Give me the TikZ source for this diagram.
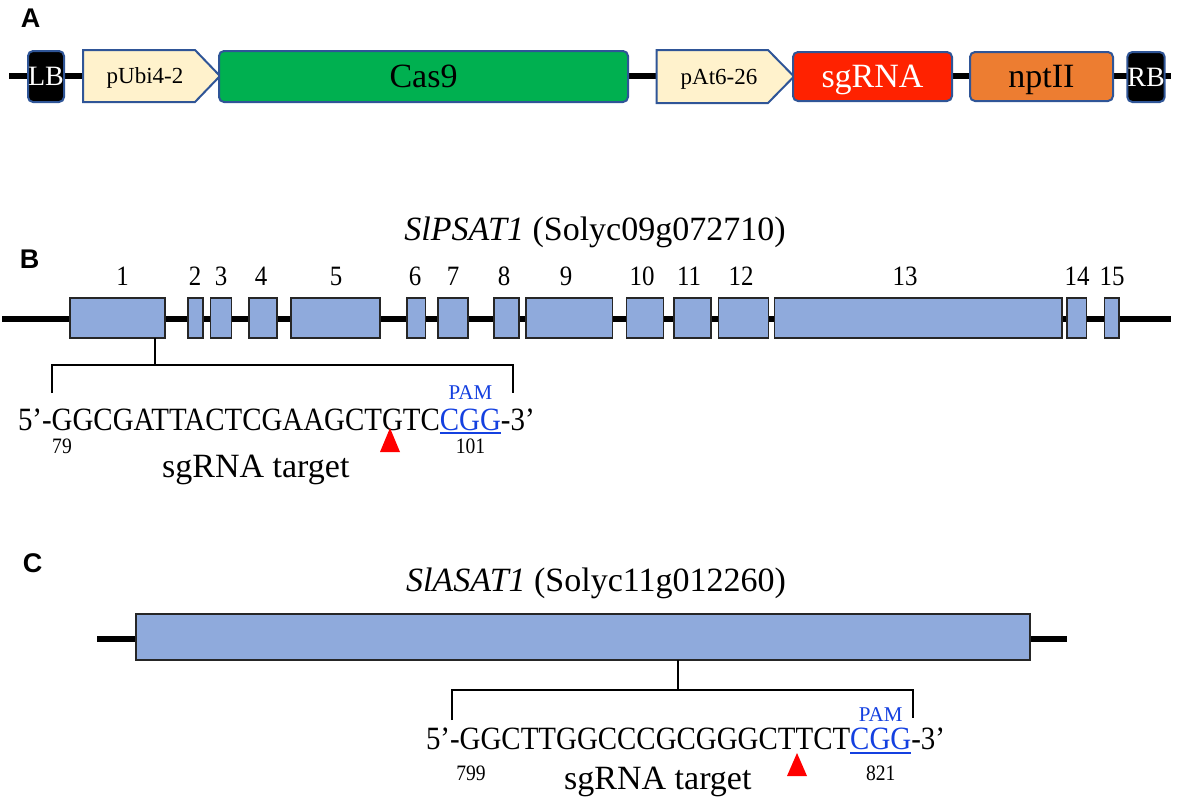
\documentclass[tikz,border=0pt]{standalone}
\usepackage{fontspec}
\setmainfont{Liberation Serif}
\newfontfamily\panelfont{Liberation Sans}
\newfontfamily\tallfont{Liberation Serif}[FakeStretch=0.89]
\usetikzlibrary{calc}
\definecolor{boxblue}{HTML}{2F5597}
\definecolor{promo}{HTML}{FFF2CC}
\definecolor{casgreen}{HTML}{00B050}
\definecolor{sgred}{HTML}{FF2200}
\definecolor{nptorange}{HTML}{ED7D31}
\definecolor{exonfill}{HTML}{8FAADC}
\definecolor{pamblue}{HTML}{1440E0}
\newcommand{\fsz}[1]{\fontsize{#1}{#1}\selectfont}
\tikzset{
  backbone/.style={line width=6pt},
  part/.style={draw=boxblue, line width=2pt, rounded corners=5pt, inner sep=0pt, outer sep=0pt,
    font=\fsz{34}, text height=22pt, text depth=0pt},
  endbox/.style={part, fill=black, text=white, font=\fsz{28}, text height=18pt},
  promobox/.style={draw=boxblue, line width=2pt, fill=promo, line join=miter},
  prtext/.style={font=\fsz{23}, inner sep=0pt, text height=15pt, text depth=0pt},
  exon/.style={draw=black!85, line width=1.6pt, fill=exonfill, inner sep=0pt, outer sep=0pt, minimum height=40pt},
  num/.style={font=\tallfont\fsz{28}, anchor=base, inner sep=0pt},
  title/.style={font=\fsz{34}, anchor=base, inner sep=0pt},
  panel/.style={font=\panelfont\bfseries\fsz{27}, anchor=base, inner sep=0pt},
  seq/.style={font=\tallfont\fsz{32.5}, anchor=base west, inner sep=0pt, outer sep=0pt},
  posnum/.style={font=\tallfont\fsz{22}, anchor=base, inner sep=0pt},
  pam/.style={font=\fsz{21}, text=pamblue, anchor=base, inner sep=0pt},
  target/.style={font=\fsz{34}, anchor=base west, inner sep=0pt},
  ul/.style={draw=pamblue, line width=2.6pt},
  bracket/.style={line width=2.4pt, line join=miter},
  stem/.style={line width=2pt},
  cut/.style={fill=red},
}
\begin{document}
\begin{tikzpicture}[x=1pt,y=-1pt]
\useasboundingbox (0,0) rectangle (1181,801);

% ---------------- Panel A ----------------
\node[panel] (labA) at (30.5,27) {A};
\coordinate (aL) at (9,76);
\coordinate (aR) at (1171,76);
\draw[backbone] (aL) -- (aR);

\node[endbox, minimum width=36pt, minimum height=51pt] (LB) at (46,76.5) {LB};
\draw[promobox] (83,50) -- (195,50) -- (220,76) -- (195,102) -- (83,102) -- cycle;
\node[prtext] (pubi) at (145,76) {pUbi4-2};
\node[part, fill=casgreen, minimum width=409pt, minimum height=51pt] (cas) at (423.5,76.5) {Cas9};
\draw[promobox] (656.5,50) -- (768,50) -- (794,76.5) -- (768,103) -- (656.5,103) -- cycle;
\node[prtext] (pat) at (719,76.5) {pAt6-26};
\node[part, fill=sgred, text=white, minimum width=159pt, minimum height=49pt] (sg) at (872.5,76.5) {sgRNA};
\node[part, fill=nptorange, minimum width=143pt, minimum height=49pt] (npt) at (1041.5,76.5) {nptII};
\node[endbox, minimum width=36pt, minimum height=50pt] (RB) at (1146,77) {RB};

% ---------------- Panel B ----------------
\node[panel] (labB) at (29.5,268) {B};
\node[title] (titB) at (595,240) {\textit{SlPSAT1} (Solyc09g072710)};
\coordinate (bL) at (2,319);
\coordinate (bR) at (1171,319);
\draw[backbone] (bL) -- (bR);
\foreach \n/\a/\b in {1/70/165, 2/188/203, 3/210.5/231.5, 4/249/277, 5/291/380,
  6/407/425.5, 7/438/468, 8/494/519, 9/526/612.5, 10/626.5/663.5, 11/674/711,
  12/718.5/768.5, 13/774.5/1062, 14/1067/1086.5, 15/1104.5/1119}
  \node[exon, minimum width={\b-\a}] (e\n) at ({(\a+\b)/2},318) {};
\foreach \n/\x in {1/122.5, 2/195, 3/221, 4/261, 5/336, 6/415, 7/453, 8/504, 9/566,
  10/642, 11/689, 12/741, 13/905, 14/1077, 15/1112}
  \node[num] (n\n) at (\x,285) {\n};

\coordinate (bStem) at (155,365);
\coordinate (bBl) at (52,393);
\coordinate (bBr) at (513,393);
\draw[stem] (e1.south -| bStem) -- (bStem);
\draw[bracket] (bBl) -- (bBl |- bStem) -- (bBr |- bStem) -- (bBr);

\node[seq] (sB) at (18,430) {5’-GGCGATTACTCGAAGCTGTC};
\node[seq, text=pamblue] (pB) at (sB.base east) {CGG};
\node[seq] (tB) at (pB.base east) {-3’};
\draw[ul] ([yshift=-3pt]pB.base west) -- ([yshift=-3pt]pB.base east);
\node[pam] (pamB) at ([yshift=31pt]pB.base) {PAM};
\fill[cut] (390,428) -- (400,452) -- (380,452) -- cycle;
\node[posnum] (p79) at (62,453) {79};
\node[posnum] (p101) at (pB.base |- p79.base) {101};
\node[target] (tgB) at (162,477) {sgRNA target};

% ---------------- Panel C ----------------
\node[panel] (labC) at (32.5,572) {C};
\node[title] (titC) at (596,591) {\textit{SlASAT1} (Solyc11g012260)};
\coordinate (cL) at (97,639);
\coordinate (cR) at (1067,639);
\draw[backbone] (cL) -- (cR);
\node[exon, minimum width=894pt, minimum height=46pt] (gC) at (583,637) {};

\coordinate (cStem) at (677.5,690);
\coordinate (cBl) at (452,720);
\coordinate (cBr) at (913,718);
\draw[stem] (gC.south -| cStem) -- (cStem);
\draw[bracket] (cBl) -- (cBl |- cStem) -- (cBr |- cStem) -- (cBr);

\node[seq] (sC) at (426,749) {5’-GGCTTGGCCCGCGGGCTTCT};
\node[seq, text=pamblue] (pC) at (sC.base east) {CGG};
\node[seq] (tC) at (pC.base east) {-3’};
\draw[ul] ([yshift=-4pt]pC.base west) -- ([yshift=-4pt]pC.base east);
\node[pam] (pamC) at ([yshift=28pt]pC.base) {PAM};
\fill[cut] (797,753) -- (807,776) -- (787,776) -- cycle;
\node[posnum] (p799) at (471,780) {799};
\node[posnum] (p821) at (pC.base |- p799.base) {821};
\node[target] (tgC) at (564,789) {sgRNA target};
\end{tikzpicture}
\end{document}
